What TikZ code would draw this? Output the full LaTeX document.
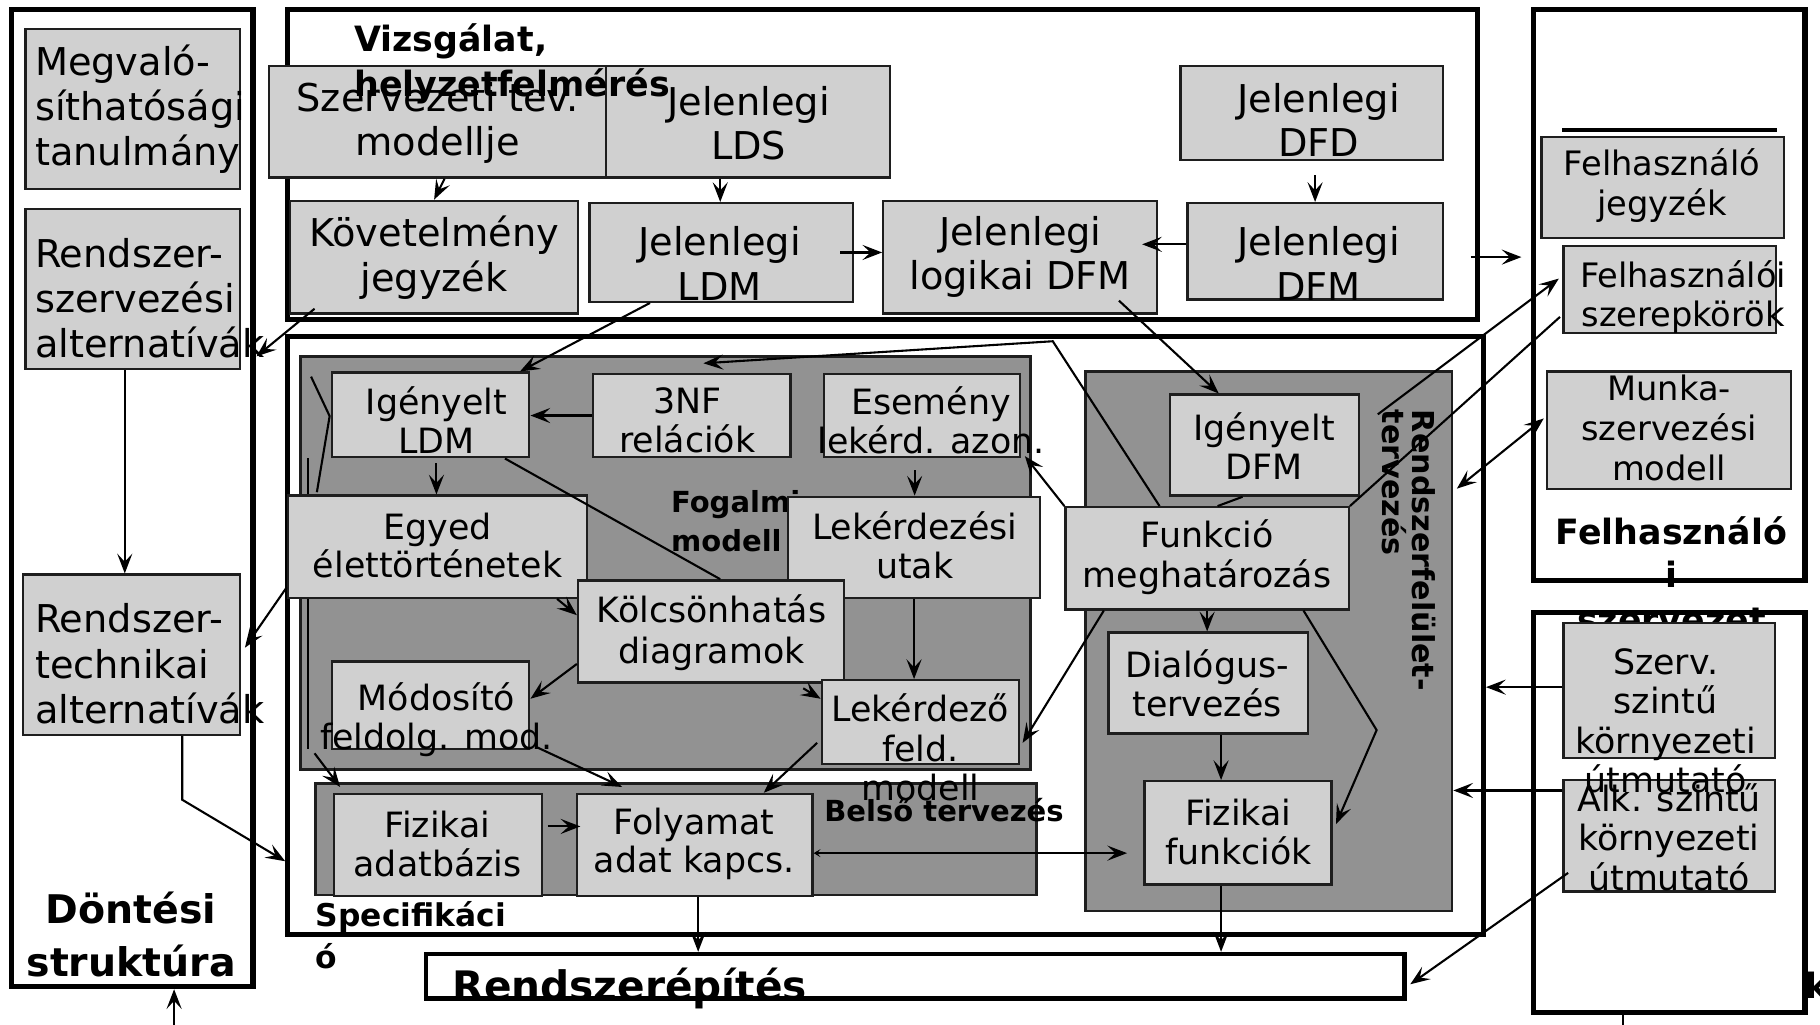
\documentclass[tikz,border=0pt]{standalone}
\usepackage{fontspec}
\setmainfont{DejaVu Sans}
\usetikzlibrary{arrows.meta,calc}
\definecolor{boxfill}{RGB}{208,208,208}
\definecolor{regfill}{RGB}{146,146,146}
\definecolor{edge}{RGB}{30,30,30}

% rectangle node given by its corners: [style]{name}{x1}{y1}{x2}{y2}
\newcommand\abox[6][]{\node[#1,minimum width={(#5)-(#3)},minimum height={(#6)-(#4)}] (#2) at ({((#3)+(#5))/2},{((#4)+(#6))/2}) {};}
% text node: [style]{name}{x}{y}{text}
\newcommand\atxt[5][]{\node[txt,#1] (#2) at (#3,#4) {#5};}
\newcommand\fa{\fontsize{33}{39}\selectfont}
\newcommand\fat{\fontsize{33}{38}\selectfont}
\newcommand\fb{\fontsize{30}{33.5}\selectfont}
\newcommand\fc{\fontsize{29}{35}\selectfont}

\begin{document}
\begin{tikzpicture}[x=1pt,y=-1pt,
  frame/.style={draw=black,line width=4.5pt,fill=white},
  region/.style={draw=edge,line width=2.2pt,fill=regfill},
  box/.style={draw=edge,line width=2pt,fill=boxfill},
  txt/.style={inner sep=0pt,align=center,text=black},
  ltxt/.style={inner sep=0pt,align=left,text=black,anchor=west},
  conn/.style={line width=1.8pt,-{Stealth[length=17pt,width=13pt,inset=7pt]}},
  dconn/.style={line width=1.8pt,{Stealth[length=17pt,width=13pt,inset=7pt]}-{Stealth[length=17pt,width=13pt,inset=7pt]}},
  plain/.style={line width=1.8pt},
]
\useasboundingbox (0,0) rectangle (1568,883);
\fill[white] (0,0) rectangle (1568,883);

% ---------- outer frames ----------
\abox[frame]{fLeft}{10}{8}{218}{850}
\abox[frame]{fTop}{248}{8}{1273}{275}
\abox[frame]{fMid}{248}{290}{1278}{805}
\abox[frame]{fUser}{1321}{8}{1555}{500}
\abox[frame]{fEnv}{1321}{528}{1555}{872}
\abox[frame,line width=4pt]{fBuild}{367}{822}{1210}{860}

% ---------- shaded regions ----------
\abox[region]{rConc}{259}{307}{888}{663}
\abox[region]{rInt}{272}{675}{893}{771}
\abox[region]{rUI}{935}{320}{1251}{785}

% ---------- region and frame titles lying under the boxes ----------
\node[ltxt,font=\bfseries\fontsize{25}{34}\selectfont] (tConc) at (578,449) {Fogalmi\\modell};
\node[txt,font=\bfseries\fontsize{34}{46}\selectfont] (tDec) at (113,805) {Döntési\\struktúra};
\node[ltxt,font=\bfseries\fontsize{27}{36}\selectfont] (tSpec) at (272,806) {Specifikáci\\ó};
\node[ltxt,font=\bfseries\fontsize{25}{30}\selectfont] (tInt) at (710,698) {Belső tervezés};
\node[inner sep=0pt,align=left,font=\bfseries\fontsize{26}{26}\selectfont,rotate=-90,anchor=north west] (tUI) at (1237,353) {Rendszerfelület-\\tervezés};
\node[txt,font=\bfseries\fontsize{30}{37}\selectfont] (tUser) at (1440,495) {Felhasználó\\i\\[2pt]szervezet};

% line running behind the entity box
\coordinate (vTop) at (265,395);
\coordinate (vBot) at (265,645);
\draw[plain] (vTop) -- (vBot);

% ---------- boxes ----------
\abox[box]{bFeas}{22}{25}{207}{163}
\abox[box]{bAltOrg}{22}{180}{207}{318}
\abox[box]{bAltTech}{20}{495}{207}{633}

\abox[box]{bOrg}{232}{57}{522}{153}
\abox[box]{bLds}{522}{57}{767}{153}
\abox[box]{bDfd}{1017}{57}{1243}{138}
\abox[box]{bReq}{250}{173}{498}{270}
\abox[box]{bLdm}{508}{175}{735}{260}
\abox[box]{bLdfm}{761}{173}{997}{270}
\abox[box]{bDfm}{1023}{175}{1243}{258}

\abox[box]{bUlist}{1328}{118}{1537}{205}
\draw[line width=3pt] ([shift={(19,-5)}]bUlist.north west) -- ([shift={(-7,-5)}]bUlist.north east);
\abox[box]{bRoles}{1347}{212}{1530}{287}
\abox[box]{bWork}{1333}{320}{1543}{421}
\abox[box]{bAlk}{1347}{672}{1529}{768}
\abox[box]{bSzerv}{1347}{537}{1529}{653}

\abox[box]{bIldm}{286}{321}{456}{394}
\abox[box]{bNf}{511}{322}{681}{394}
\abox[box]{bEvent}{710}{322}{879}{394}
\abox[box]{bEntity}{248}{427}{506}{515}
\abox[box]{bQpath}{679}{428}{896}{515}
\abox[box]{bInter}{498}{500}{727}{588}
\abox[box]{bMod}{286}{570}{456}{645}
\abox[box]{bQproc}{708}{586}{878}{658}

\abox[box]{bPdb}{288}{684}{467}{772}
\abox[box]{bFlow}{497}{684}{700}{772}

\abox[box]{bIdfm}{1008}{340}{1171}{427}
\abox[box]{bFunc}{918}{437}{1162}{525}
\abox[box]{bDial}{955}{545}{1127}{632}
\abox[box]{bPfunc}{986}{673}{1147}{762}

% ---------- box texts ----------
\atxt[ltxt,font=\fa]{bFeas-t}{30}{94}{Megvaló-\\síthatósági\\tanulmány}
\atxt[ltxt,font=\fa]{bAltOrg-t}{30}{257}{Rendszer-\\szervezési\\alternatívák}
\atxt[ltxt,font=\fa]{bAltTech-t}{30}{572}{Rendszer-\\technikai\\alternatívák}

\atxt[font=\fat]{bOrg-t}{377}{106}{Szervezeti tev.\\modellje}
\atxt[font=\fat]{bLds-t}{645}{106}{Jelenlegi\\LDS}
\atxt[font=\fat]{bDfd-t}{1136}{103}{Jelenlegi\\DFD}
\atxt[font=\fat]{bReq-t}{374}{222}{Követelmény\\jegyzék}
\atxt[font=\fat]{bLdm-t}{620}{227}{Jelenlegi\\LDM}
\atxt[font=\fat]{bLdfm-t}{879}{221}{Jelenlegi\\logikai DFM}
\atxt[font=\fat]{bDfm-t}{1136}{227}{Jelenlegi\\DFM}

\atxt[font=\fc]{bUlist-t}{1432}{160}{Felhasználó\\jegyzék}
\atxt[font=\fontsize{29}{33}\selectfont]{bRoles-t}{1450}{256}{Felhasználói\\szerepkörök}
\atxt[font=\fontsize{29}{34.5}\selectfont]{bWork-t}{1438}{369}{Munka-\\szervezési\\modell}
\atxt[font=\fontsize{30}{34}\selectfont]{bAlk-t}{1438}{721}{Alk. szintű\\környezeti\\útmutató}
\atxt[font=\fontsize{30}{34}\selectfont]{bSzerv-t}{1435}{621}{Szerv.\\szintű\\környezeti\\útmutató}

\atxt[font=\fb]{bIldm-t}{376}{362}{Igényelt\\LDM}
\atxt[font=\fb]{bNf-t}{592}{362}{3NF\\relációk}
\atxt[font=\fb]{bEvent-t}{802}{362}{Esemény\\lekérd. azon.}
\atxt[font=\fb]{bEntity-t}{377}{470}{Egyed\\élettörténetek}
\atxt[font=\fb]{bQpath-t}{788}{470}{Lekérdezési\\utak}
\atxt[font=\fontsize{30}{35}\selectfont]{bInter-t}{613}{545}{Kölcsönhatás\\diagramok}
\atxt[font=\fb]{bMod-t}{376}{620}{Módosító\\feldolg. mod.}
\atxt[font=\fontsize{30}{34}\selectfont]{bQproc-t}{793}{644}{Lekérdező\\feld.\\modell}

\atxt[font=\fb]{bPdb-t}{377}{727}{Fizikai\\adatbázis}
\atxt[font=\fb]{bFlow-t}{598}{727}{Folyamat\\adat kapcs.}

\atxt[font=\fb]{bIdfm-t}{1089}{384}{Igényelt\\DFM}
\atxt[font=\fontsize{30}{35}\selectfont]{bFunc-t}{1040}{480}{Funkció\\meghatározás}
\atxt[font=\fb]{bDial-t}{1040}{589}{Dialógus-\\tervezés}
\atxt[font=\fb]{bPfunc-t}{1067}{717}{Fizikai\\funkciók}

% ---------- connectors ----------
% decision structure column
\draw[conn] ([xshift=-7]bAltOrg.south) -- ([xshift=-7]bAltOrg.south |- bAltTech.north);
\coordinate (decIn) at (150,895);
\draw[conn] (decIn) -- (decIn |- fLeft.south);
\draw[conn] ([shift={(22,-5)}]bReq.south west) -- ([shift={(13,-12)}]bAltOrg.south east);
\draw[conn] ([shift={(0,-10)}]bEntity.south west) -- ([shift={(3,-6)}]bAltTech.east);
\draw[conn] ([xshift=43.5]bAltTech.south) -- ++(0,55) -- ([shift={(0,194.5)}]fMid.west);

% current-state analysis
\draw[conn] ([xshift=6]bOrg.south) -- (bReq.north);
\draw[conn] ([xshift=-24]bLds.south) -- ([xshift=-24]bLds.south |- bLdm.north);
\draw[conn] ([shift={(0,12)}]bDfd.south -| bDfm.north) -- (bDfm.north);
\draw[conn] ([xshift=-12]bLdm.east) -- (bLdm.east -| bLdfm.west);
\draw[conn] ([shift={(0,-6)}]bDfm.west) -- ([shift={(-14,-6)}]bLdfm.east |- bDfm.west);
\draw[conn] ([shift={(-8,80)}]fTop.east) -- ([shift={(-8,80)}]fTop.east -| fUser.west);
\draw[conn] ([xshift=-61.5]bLdm.south) -- ([xshift=-9]bIldm.north east);
\draw[conn] ([shift={(85,-12)}]bLdfm.south) -- ([xshift=-39.5]bIdfm.north);

% conceptual model
\draw[conn] (bNf.west) -- (bNf.west -| bIldm.east);
\draw[conn] ([shift={(5,4)}]bIldm.south) -- ([xshift=5]bIldm.south |- bEntity.north);
\draw[conn] ([shift={(-6.5,10)}]bEvent.south) -- ([xshift=-6.5]bEvent.south |- bQpath.north);
\draw[conn] (bQpath.south) -- (bQpath.south |- bQproc.north);
\draw[plain] ([xshift=-22]bIldm.south east) -- ([xshift=8]bInter.north);
\draw[conn] ([xshift=-27]bEntity.south east) -- ([shift={(0,31)}]bInter.north west);
\draw[conn] ([shift={(0,73)}]bInter.north west) -- ([shift={(0,33)}]bMod.north east);
\draw[conn] ([shift={(-36,4)}]bInter.south east) -- ([shift={(0,17)}]bQproc.north west);
\draw[plain] ([shift={(-17,-33)}]bIldm.west) -- ([shift={(-1,1)}]bIldm.west) -- ([shift={(26,-2)}]bEntity.north west);

% internal design
\draw[conn] ([shift={(-3,-19)}]bQproc.south west) -- ([xshift=59.5]bFlow.north);
\draw[conn] ([shift={(6,-2)}]bMod.south east) -- ([shift={(40,-5)}]bFlow.north west);
\draw[conn] ([shift={(6,4)}]vBot) -- ([shift={(6,-5)}]bPdb.north west);
\draw[conn] ([shift={(4,-16)}]bPdb.east) -- ([shift={(4,-16)}]bPdb.east -| bFlow.west);
\draw[line width=1.8pt,{Stealth[length=6pt,width=7pt,inset=3pt]}-{Stealth[length=17pt,width=13pt,inset=7pt]}] ([shift={(0,7)}]bFlow.east) -- ([shift={(-14,17.5)}]bPfunc.west);
\draw[conn] ([xshift=3]bFlow.south) -- ([xshift=3]bFlow.south |- fBuild.north);

% user interface design
\draw[plain] ([xshift=-19]bIdfm.south) -- ([xshift=9]bFunc.north);
\draw[conn] (bFunc.south) -- (bFunc.south |- bDial.north);
\draw[conn] ([xshift=11]bDial.south) -- ([xshift=11]bDial.south |- bPfunc.north);
\draw[conn] ([xshift=-40]bFunc.south east) -- ++(63,103) -- ([shift={(3,-7.5)}]bPfunc.east);
\draw[conn] ([xshift=34]bFunc.south west) -- ([shift={(2,18)}]bQproc.east);
\draw[conn] (bFunc.north west) -- ([shift={(3,-2)}]bEvent.south east);
\draw[conn] ([xshift=82]bFunc.north west) -- ++(-92,-142) -- ([shift={(10,-8)}]bNf.north);
\draw[conn] ([xshift=-14.5]bPfunc.south) -- ([xshift=-14.5]bPfunc.south |- fBuild.north);

% user organisation and environment guides
\coordinate (uiA) at (1187,357);
\draw[conn] (uiA) -- ([shift={(-3,-9.5)}]bRoles.west);
\draw[plain] (bFunc.north east) -- ([shift={(-2,-15)}]bRoles.south west);
\draw[dconn] ([shift={(-2,-10)}]bWork.west) -- ([shift={(3,-131.5)}]rUI.east);
\draw[conn] ([shift={(0,-3)}]bSzerv.west) -- ([shift={(0,-3)}]bSzerv.west -| fMid.east);
\draw[conn] ([shift={(0,-39)}]bAlk.west) -- ([shift={(0,-39)}]bAlk.west -| rUI.east);
\draw[conn] ([shift={(5,32)}]bAlk.west) -- ([shift={(3,7)}]fBuild.east);
\coordinate (envOut) at (1398,895);
\draw[plain] (fEnv.south -| envOut) -- (envOut);

% ---------- titles over the boxes ----------
\node[ltxt,font=\bfseries\fontsize{30}{38}\selectfont] (tSurvey) at (305,55) {Vizsgálat,\\helyzetfelmérés};
\node[ltxt,font=\bfseries\fontsize{35}{35}\selectfont] (tBuild) at (390,852) {Rendszerépítés};
\node[ltxt,font=\bfseries\fontsize{30}{30}\selectfont] (tCut) at (1555,849) {k};
\end{tikzpicture}
\end{document}
